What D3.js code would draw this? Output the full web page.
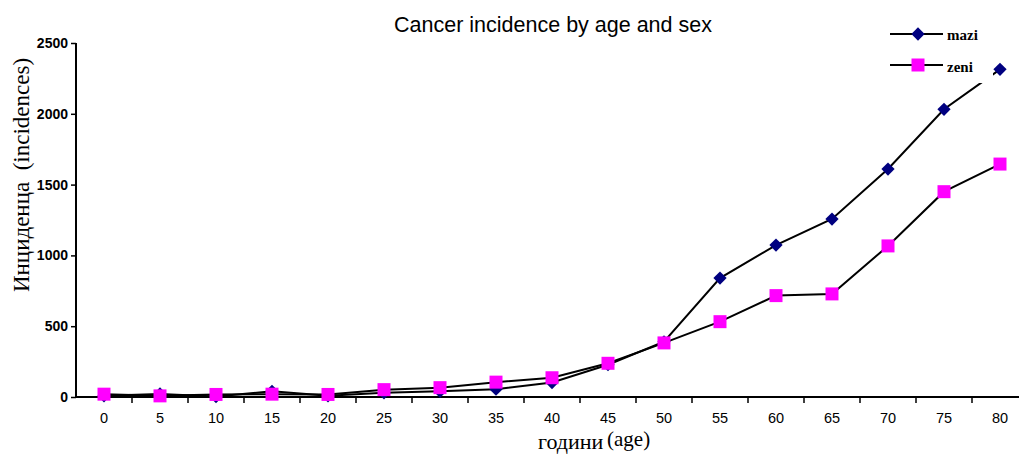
<!DOCTYPE html>
<html>
<head>
<meta charset="utf-8">
<script src="https://cdn.jsdelivr.net/npm/d3@7"></script>
<style>
  body { margin: 0; background: #fff; }
  svg { display: block; }
</style>
</head>
<body>
<svg id="chart"></svg>
<script>
// data
const ages = ["0", "5", "10", "15", "20", "25", "30", "35", "40", "45", "50", "55", "60", "65", "70", "75", "80"];
const mazi = [8, 22, 3, 40, 8, 30, 40, 55, 102, 228, 390, 840, 1073, 1257, 1610, 2032, 2314];
const zeni = [20, 8, 18, 20, 18, 52, 66, 105, 136, 238, 382, 532, 716, 728, 1067, 1450, 1645];
const yTicks = [0, 500, 1000, 1500, 2000, 2500];

const width = 1019, height = 455;
const svg = d3.select("#chart").attr("width", width).attr("height", height);

const sans = "Arial, 'Liberation Sans', sans-serif";
const serif = "'Liberation Serif', 'Times New Roman', serif";

// plot area (right side runs past the window, like the original)
const x = d3.scaleBand().domain(ages).range([76, 1028]);
const y = d3.scaleLinear().domain([0, 2500]).range([397, 43]);
const cx = d => x(d) + x.bandwidth() / 2;

// title
svg.append("text")
  .attr("x", 553).attr("y", 32)
  .attr("text-anchor", "middle")
  .style("font-family", sans)
  .style("font-size", "21.5px")
  .text("Cancer incidence by age and sex");

// y axis
const yAxis = svg.append("g")
  .attr("transform", "translate(76,0)")
  .call(d3.axisLeft(y).tickValues(yTicks).tickSize(5).tickPadding(3).tickFormat(d3.format("d")));
yAxis.select(".domain").attr("stroke", "#000").attr("stroke-width", 2).attr("d", `M0,${y(2500)}V${y(0)}`);
yAxis.selectAll(".tick line").attr("stroke", "#000").attr("stroke-width", 1.5);
yAxis.selectAll(".tick text")
  .style("font-family", sans)
  .style("font-size", "14px").style("font-weight", "bold").attr("fill", "#000");

// x axis: labels centred on categories, ticks between them
const xAxis = svg.append("g")
  .attr("transform", "translate(0,397)")
  .call(d3.axisBottom(x).tickSize(0).tickPadding(16));
xAxis.select(".domain").attr("stroke", "#000").attr("stroke-width", 2).attr("d", `M76,0H1028`);
xAxis.selectAll(".tick text")
  .style("font-family", sans)
  .style("font-size", "14.5px").attr("fill", "#000");
xAxis.selectAll(".bound")
  .data(ages.slice(1).concat(["end"]))
  .join("line")
  .attr("class", "bound")
  .attr("x1", d => d === "end" ? x.range()[1] : x(d))
  .attr("x2", d => d === "end" ? x.range()[1] : x(d))
  .attr("y1", 0).attr("y2", 6)
  .attr("stroke", "#000").attr("stroke-width", 1.5);

// axis titles
svg.append("text")
  .attr("transform", "translate(29,175) rotate(-90)")
  .attr("text-anchor", "middle")
  .style("font-family", serif)
  .style("font-size", "23px")
  .style("white-space", "pre")
  .text("Инциденца  (incidences)");

svg.append("text")
  .attr("x", 538).attr("y", 449)
  .style("font-family", serif)
  .style("font-size", "22px")
  .text("години");
svg.append("text")
  .attr("x", 607).attr("y", 446)
  .style("font-family", serif)
  .style("font-size", "21px")
  .text("(age)");

// series
const series = [
  { name: "mazi", values: mazi, color: "#000080", size: 88, rot: 45 },
  { name: "zeni", values: zeni, color: "#FF00FF", size: 169, rot: 0 }
];

const line = d3.line().x((d, i) => cx(ages[i])).y(d => y(d));

series.forEach(s => {
  const g = svg.append("g");
  g.append("path")
    .datum(s.values)
    .attr("fill", "none")
    .attr("stroke", "#000")
    .attr("stroke-width", 2)
    .attr("d", line);
  g.selectAll("path.pt")
    .data(s.values)
    .join("path")
    .attr("class", "pt")
    .attr("transform", (d, i) => `translate(${cx(ages[i])},${y(d)}) rotate(${s.rot})`)
    .attr("d", d3.symbol(d3.symbolSquare, s.size)())
    .attr("fill", s.color);
});

// legend (white box sits over the lines)
const legend = svg.append("g").attr("transform", "translate(880,15)");
legend.append("rect").attr("width", 113).attr("height", 68).attr("fill", "#fff");
const legendY = [19, 50];
const legendTextY = [25, 57];
series.forEach((s, i) => {
  const row = legend.append("g");
  row.append("line")
    .attr("x1", 10).attr("x2", 63)
    .attr("y1", legendY[i]).attr("y2", legendY[i])
    .attr("stroke", "#000").attr("stroke-width", 2);
  row.append("path")
    .attr("transform", `translate(38,${legendY[i]}) rotate(${s.rot})`)
    .attr("d", d3.symbol(d3.symbolSquare, s.size)())
    .attr("fill", s.color);
  row.append("text")
    .attr("x", 67).attr("y", legendTextY[i])
    .style("font-family", serif)
    .style("font-size", "15px").style("font-weight", "bold")
    .text(s.name);
});
</script>
</body>
</html>
